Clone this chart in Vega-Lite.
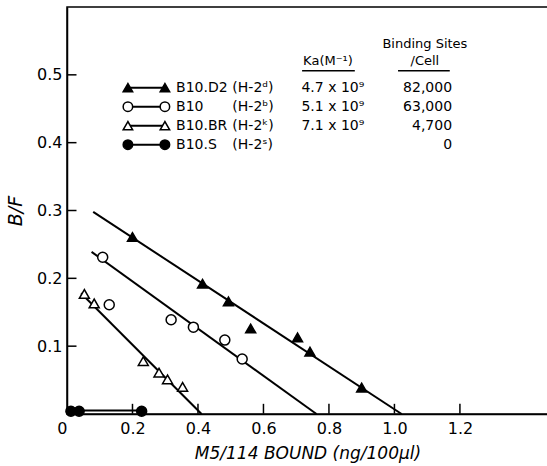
{
  "$schema": "https://vega.github.io/schema/vega-lite/v6.json",
  "autosize": "none",
  "padding": {"left": 67, "top": 7, "right": 0, "bottom": 52},
  "width": 481,
  "height": 407,
  "background": "white",
  "config": {
    "view": {"stroke": "black", "strokeWidth": 1.5},
    "font": "DejaVu Sans",
    "axis": {"grid": false, "ticks": false, "domainColor": "black", "domainWidth": 1.5, "labelColor": "black", "titleColor": "black", "labelFont": "DejaVu Sans", "titleFont": "DejaVu Sans"}
  },
  "datasets": {
    "points": [
      {"strain": "B10.D2", "x": 0.200, "y": 0.261},
      {"strain": "B10.D2", "x": 0.414, "y": 0.192},
      {"strain": "B10.D2", "x": 0.493, "y": 0.166},
      {"strain": "B10.D2", "x": 0.561, "y": 0.126},
      {"strain": "B10.D2", "x": 0.704, "y": 0.113},
      {"strain": "B10.D2", "x": 0.742, "y": 0.092},
      {"strain": "B10.D2", "x": 0.900, "y": 0.039},
      {"strain": "B10", "x": 0.109, "y": 0.231},
      {"strain": "B10", "x": 0.129, "y": 0.161},
      {"strain": "B10", "x": 0.318, "y": 0.139},
      {"strain": "B10", "x": 0.386, "y": 0.128},
      {"strain": "B10", "x": 0.482, "y": 0.109},
      {"strain": "B10", "x": 0.535, "y": 0.081},
      {"strain": "B10.BR", "x": 0.053, "y": 0.177},
      {"strain": "B10.BR", "x": 0.083, "y": 0.163},
      {"strain": "B10.BR", "x": 0.233, "y": 0.078},
      {"strain": "B10.BR", "x": 0.281, "y": 0.061},
      {"strain": "B10.BR", "x": 0.307, "y": 0.051},
      {"strain": "B10.BR", "x": 0.353, "y": 0.040},
      {"strain": "B10.S", "x": 0.012, "y": 0.004},
      {"strain": "B10.S", "x": 0.037, "y": 0.004},
      {"strain": "B10.S", "x": 0.228, "y": 0.004}
    ],
    "fits": [
      {"strain": "B10.D2", "x": 0.080, "y": 0.298},
      {"strain": "B10.D2", "x": 1.022, "y": 0.0},
      {"strain": "B10", "x": 0.075, "y": 0.239},
      {"strain": "B10", "x": 0.762, "y": 0.0},
      {"strain": "B10.BR", "x": 0.043, "y": 0.178},
      {"strain": "B10.BR", "x": 0.411, "y": 0.0},
      {"strain": "B10.S", "x": 0.012, "y": 0.005},
      {"strain": "B10.S", "x": 0.228, "y": 0.005}
    ],
    "table": [
      {"strain": "B10.D2", "hap": "(H-2ᵈ)", "ka": "4.7 x 10⁹", "sites": "82,000", "bf": 0.481},
      {"strain": "B10", "hap": "(H-2ᵇ)", "ka": "5.1 x 10⁹", "sites": "63,000", "bf": 0.453},
      {"strain": "B10.BR", "hap": "(H-2ᵏ)", "ka": "7.1 x 10⁹", "sites": "4,700", "bf": 0.425},
      {"strain": "B10.S", "hap": "(H-2ˢ)", "ka": "", "sites": "0", "bf": 0.397}
    ],
    "xticks": [{"tx": 0.2}, {"tx": 0.4}, {"tx": 0.6}, {"tx": 0.8}, {"tx": 1.0}, {"tx": 1.2}],
    "yticks": [{"ty": 0.1}, {"ty": 0.2}, {"ty": 0.3}, {"ty": 0.4}, {"ty": 0.5}],
    "one": [{}]
  },
  "layer": [
    {
      "data": {"name": "fits"},
      "mark": {"type": "line", "color": "black", "strokeWidth": 2},
      "encoding": {
        "x": {"field": "x", "type": "quantitative", "scale": {"domain": [0, 1.469], "nice": false, "zero": false},
          "axis": {"values": [0, 0.2, 0.4, 0.6, 0.8, 1.0, 1.2], "labelPadding": 6, "labelFontSize": 16,
            "labelAlign": {"condition": {"test": "datum.value == 0", "value": "right"}, "value": "center"},
            "labelExpr": "datum.value == 0 ? '0' : format(datum.value, '.1f')",
            "title": "M5/114 BOUND (ng/100µl)", "titleFontSize": 17, "titleFontStyle": "italic", "titleFontWeight": "normal", "titlePadding": 9}},
        "y": {"field": "y", "type": "quantitative", "scale": {"domain": [0, 0.6], "nice": false},
          "axis": {"values": [0.1, 0.2, 0.3, 0.4, 0.5], "format": ".1f", "labelPadding": 5, "labelFontSize": 16,
            "title": "B/F", "titleFontSize": 19, "titleFontStyle": "italic", "titleFontWeight": "normal", "titlePadding": 11}},
        "detail": {"field": "strain"}
      }
    },
    {
      "data": {"name": "xticks"},
      "mark": {"type": "rule", "color": "black", "strokeWidth": 1.5},
      "encoding": {"x": {"field": "tx", "type": "quantitative"}, "y": {"datum": 0.0005}, "y2": {"datum": 0.015}}
    },
    {
      "data": {"name": "yticks"},
      "mark": {"type": "rule", "color": "black", "strokeWidth": 1.5},
      "encoding": {"y": {"field": "ty", "type": "quantitative"}, "x": {"datum": 0.001}, "x2": {"datum": 0.029}}
    },
    {
      "data": {"name": "points"},
      "mark": {"type": "point", "filled": true, "stroke": "black", "strokeWidth": 1.5, "opacity": 1},
      "encoding": {
        "x": {"field": "x", "type": "quantitative"},
        "y": {"field": "y", "type": "quantitative"},
        "shape": {"field": "strain", "type": "nominal", "scale": {"domain": ["B10.D2", "B10", "B10.BR", "B10.S"], "range": ["triangle-up", "circle", "triangle-up", "circle"]}, "legend": null},
        "fill": {"field": "strain", "type": "nominal", "scale": {"domain": ["B10.D2", "B10", "B10.BR", "B10.S"], "range": ["black", "white", "white", "black"]}, "legend": null},
        "size": {"value": 100}
      }
    },
    {
      "data": {"name": "table"},
      "mark": {"type": "rule", "color": "black", "strokeWidth": 2},
      "encoding": {
        "x": {"datum": 0.186},
        "x2": {"datum": 0.299},
        "y": {"field": "bf", "type": "quantitative"}
      }
    },
    {
      "data": {"name": "table"},
      "mark": {"type": "point", "filled": true, "stroke": "black", "strokeWidth": 1.5, "opacity": 1},
      "encoding": {
        "x": {"datum": 0.186},
        "y": {"field": "bf", "type": "quantitative"},
        "shape": {"field": "strain", "type": "nominal", "legend": null},
        "fill": {"field": "strain", "type": "nominal", "legend": null},
        "size": {"value": 90}
      }
    },
    {
      "data": {"name": "table"},
      "mark": {"type": "point", "filled": true, "stroke": "black", "strokeWidth": 1.5, "opacity": 1},
      "encoding": {
        "x": {"datum": 0.299},
        "y": {"field": "bf", "type": "quantitative"},
        "shape": {"field": "strain", "type": "nominal", "legend": null},
        "fill": {"field": "strain", "type": "nominal", "legend": null},
        "size": {"value": 90}
      }
    },
    {
      "data": {"name": "table"},
      "mark": {"type": "text", "align": "left", "baseline": "middle", "fontSize": 14, "color": "black"},
      "encoding": {"x": {"datum": 0.333}, "y": {"field": "bf", "type": "quantitative"}, "text": {"field": "strain"}}
    },
    {
      "data": {"name": "table"},
      "mark": {"type": "text", "align": "left", "baseline": "middle", "fontSize": 14, "color": "black"},
      "encoding": {"x": {"datum": 0.505}, "y": {"field": "bf", "type": "quantitative"}, "text": {"field": "hap"}}
    },
    {
      "data": {"name": "table"},
      "mark": {"type": "text", "align": "left", "baseline": "middle", "fontSize": 14, "color": "black"},
      "encoding": {"x": {"datum": 0.716}, "y": {"field": "bf", "type": "quantitative"}, "text": {"field": "ka"}}
    },
    {
      "data": {"name": "table"},
      "mark": {"type": "text", "align": "right", "baseline": "middle", "fontSize": 14, "color": "black"},
      "encoding": {"x": {"datum": 1.176}, "y": {"field": "bf", "type": "quantitative"}, "text": {"field": "sites"}}
    },
    {
      "data": {"name": "one"},
      "mark": {"type": "text", "align": "center", "baseline": "middle", "fontSize": 13, "color": "black", "text": "Ka(M⁻¹)"},
      "encoding": {"x": {"datum": 0.797}, "y": {"datum": 0.521}}
    },
    {
      "data": {"name": "one"},
      "mark": {"type": "text", "align": "center", "baseline": "middle", "fontSize": 13, "color": "black", "text": "Binding Sites"},
      "encoding": {"x": {"datum": 1.093}, "y": {"datum": 0.546}}
    },
    {
      "data": {"name": "one"},
      "mark": {"type": "text", "align": "center", "baseline": "middle", "fontSize": 13, "color": "black", "text": "/Cell"},
      "encoding": {"x": {"datum": 1.093}, "y": {"datum": 0.521}}
    },
    {
      "data": {"name": "one"},
      "mark": {"type": "rule", "color": "black", "strokeWidth": 1.5},
      "encoding": {"x": {"datum": 0.718}, "x2": {"datum": 0.879}, "y": {"datum": 0.506}}
    },
    {
      "data": {"name": "one"},
      "mark": {"type": "rule", "color": "black", "strokeWidth": 1.5},
      "encoding": {"x": {"datum": 1.011}, "x2": {"datum": 1.169}, "y": {"datum": 0.506}}
    }
  ]
}
